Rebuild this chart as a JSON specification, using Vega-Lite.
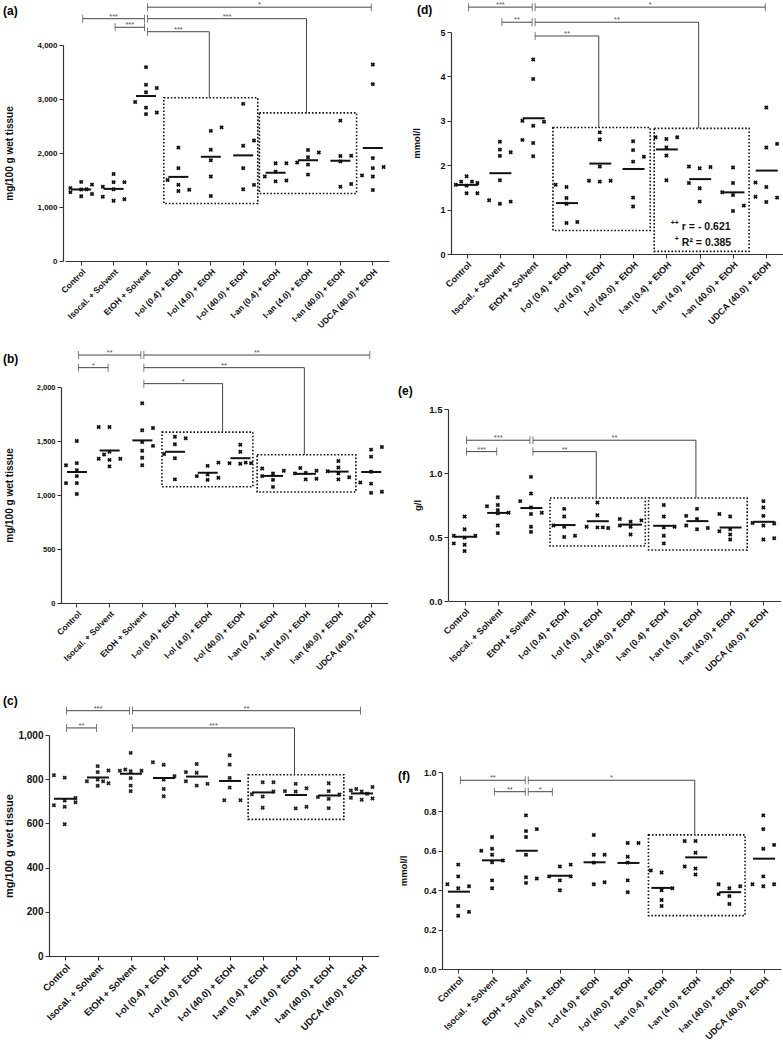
{
"$schema": "https://vega.github.io/schema/vega-lite/v6.json",
"background": "white",
"autosize": {"type": "none"},
"padding": {"left": 63, "top": 45, "right": 720, "bottom": 1003},
"config": {
  "font": "Liberation Sans",
  "view": {"stroke": null},
  "axis": {"grid": false, "domainColor": "#333", "tickColor": "#333", "labelColor": "#111", "titleColor": "#111", "labelFontWeight": "bold", "titleFontWeight": "bold", "tickSize": 4, "domainWidth": 1.2},
  "title": {"anchor": "start", "frame": "group", "fontSize": 12, "fontWeight": "bold", "baseline": "bottom", "color": "#000"}
},
"datasets": {
"a_pts": [
{"g":"Control","v":1465,"s":"C"},{"g":"Control","v":1415,"s":"R"},{"g":"Control","v":1350,"s":"L"},{"g":"Control","v":1325,"s":"C"},{"g":"Control","v":1275,"s":"L"},{"g":"Control","v":1240,"s":"R"},{"g":"Control","v":1200,"s":"C"},{"g":"Control","v":1330,"s":"r"},
{"g":"Isocal. + Solvent","v":1610,"s":"C"},{"g":"Isocal. + Solvent","v":1460,"s":"C"},{"g":"Isocal. + Solvent","v":1460,"s":"R"},{"g":"Isocal. + Solvent","v":1375,"s":"L"},{"g":"Isocal. + Solvent","v":1330,"s":"C"},{"g":"Isocal. + Solvent","v":1190,"s":"L"},{"g":"Isocal. + Solvent","v":1115,"s":"C"},{"g":"Isocal. + Solvent","v":1145,"s":"R"},
{"g":"EtOH + Solvent","v":3590,"s":"C"},{"g":"EtOH + Solvent","v":3265,"s":"C"},{"g":"EtOH + Solvent","v":3205,"s":"R"},{"g":"EtOH + Solvent","v":3125,"s":"C"},{"g":"EtOH + Solvent","v":2945,"s":"L"},{"g":"EtOH + Solvent","v":2840,"s":"C"},{"g":"EtOH + Solvent","v":2750,"s":"R"},{"g":"EtOH + Solvent","v":2720,"s":"C"},
{"g":"I-ol (0.4) + EtOH","v":2100,"s":"C"},{"g":"I-ol (0.4) + EtOH","v":1720,"s":"C"},{"g":"I-ol (0.4) + EtOH","v":1500,"s":"L"},{"g":"I-ol (0.4) + EtOH","v":1410,"s":"C"},{"g":"I-ol (0.4) + EtOH","v":1295,"s":"C"},{"g":"I-ol (0.4) + EtOH","v":1320,"s":"R"},
{"g":"I-ol (4.0) + EtOH","v":2410,"s":"C"},{"g":"I-ol (4.0) + EtOH","v":2475,"s":"R"},{"g":"I-ol (4.0) + EtOH","v":2060,"s":"C"},{"g":"I-ol (4.0) + EtOH","v":1865,"s":"C"},{"g":"I-ol (4.0) + EtOH","v":1565,"s":"C"},{"g":"I-ol (4.0) + EtOH","v":1205,"s":"C"},
{"g":"I-ol (40.0) + EtOH","v":2910,"s":"C"},{"g":"I-ol (40.0) + EtOH","v":2230,"s":"R"},{"g":"I-ol (40.0) + EtOH","v":2135,"s":"C"},{"g":"I-ol (40.0) + EtOH","v":1720,"s":"C"},{"g":"I-ol (40.0) + EtOH","v":1330,"s":"C"},{"g":"I-ol (40.0) + EtOH","v":1410,"s":"R"},
{"g":"I-an (0.4) + EtOH","v":1810,"s":"C"},{"g":"I-an (0.4) + EtOH","v":1810,"s":"R"},{"g":"I-an (0.4) + EtOH","v":1655,"s":"C"},{"g":"I-an (0.4) + EtOH","v":1565,"s":"L"},{"g":"I-an (0.4) + EtOH","v":1475,"s":"C"},{"g":"I-an (0.4) + EtOH","v":1490,"s":"R"},
{"g":"I-an (4.0) + EtOH","v":2055,"s":"C"},{"g":"I-an (4.0) + EtOH","v":2010,"s":"R"},{"g":"I-an (4.0) + EtOH","v":1920,"s":"C"},{"g":"I-an (4.0) + EtOH","v":1825,"s":"L"},{"g":"I-an (4.0) + EtOH","v":1785,"s":"C"},{"g":"I-an (4.0) + EtOH","v":1600,"s":"C"},
{"g":"I-an (40.0) + EtOH","v":2600,"s":"C"},{"g":"I-an (40.0) + EtOH","v":1945,"s":"C"},{"g":"I-an (40.0) + EtOH","v":1950,"s":"R"},{"g":"I-an (40.0) + EtOH","v":1845,"s":"C"},{"g":"I-an (40.0) + EtOH","v":1375,"s":"C"},{"g":"I-an (40.0) + EtOH","v":1425,"s":"R"},
{"g":"UDCA (40.0) + EtOH","v":3640,"s":"C"},{"g":"UDCA (40.0) + EtOH","v":3275,"s":"C"},{"g":"UDCA (40.0) + EtOH","v":1905,"s":"C"},{"g":"UDCA (40.0) + EtOH","v":1720,"s":"C"},{"g":"UDCA (40.0) + EtOH","v":1740,"s":"R"},{"g":"UDCA (40.0) + EtOH","v":1585,"s":"L"},{"g":"UDCA (40.0) + EtOH","v":1565,"s":"C"},{"g":"UDCA (40.0) + EtOH","v":1315,"s":"C"}
],
"a_br": [{"a":1,"b":3,"v":4487,"s":"***"},{"a":2,"b":3,"v":4328,"s":"***"},{"a":3,"b":10,"v":4700,"s":"*"},{"a":3,"b":8,"v":4487,"s":"***","d":2743},{"a":3,"b":5,"v":4246,"s":"***","d":3022}],
"a_box": [{"x1":3.55,"x2":6.45,"v":3022,"v2":1065},{"x1":6.5,"x2":9.5,"v":2743,"v2":1251}],
"b_pts": [
{"g":"Control","v":1500,"s":"C"},{"g":"Control","v":1275,"s":"L"},{"g":"Control","v":1295,"s":"C"},{"g":"Control","v":1230,"s":"C"},{"g":"Control","v":1175,"s":"C"},{"g":"Control","v":1110,"s":"L"},{"g":"Control","v":1110,"s":"C"},{"g":"Control","v":1010,"s":"C"},
{"g":"Isocal. + Solvent","v":1630,"s":"L"},{"g":"Isocal. + Solvent","v":1630,"s":"C"},{"g":"Isocal. + Solvent","v":1400,"s":"C"},{"g":"Isocal. + Solvent","v":1375,"s":"l"},{"g":"Isocal. + Solvent","v":1335,"s":"L"},{"g":"Isocal. + Solvent","v":1325,"s":"C"},{"g":"Isocal. + Solvent","v":1335,"s":"R"},{"g":"Isocal. + Solvent","v":1265,"s":"C"},
{"g":"EtOH + Solvent","v":1850,"s":"C"},{"g":"EtOH + Solvent","v":1600,"s":"C"},{"g":"EtOH + Solvent","v":1620,"s":"R"},{"g":"EtOH + Solvent","v":1490,"s":"C"},{"g":"EtOH + Solvent","v":1455,"s":"R"},{"g":"EtOH + Solvent","v":1410,"s":"C"},{"g":"EtOH + Solvent","v":1345,"s":"C"},{"g":"EtOH + Solvent","v":1275,"s":"C"},
{"g":"I-ol (0.4) + EtOH","v":1540,"s":"C"},{"g":"I-ol (0.4) + EtOH","v":1525,"s":"R"},{"g":"I-ol (0.4) + EtOH","v":1470,"s":"C"},{"g":"I-ol (0.4) + EtOH","v":1380,"s":"L"},{"g":"I-ol (0.4) + EtOH","v":1340,"s":"C"},{"g":"I-ol (0.4) + EtOH","v":1145,"s":"C"},
{"g":"I-ol (4.0) + EtOH","v":1270,"s":"C"},{"g":"I-ol (4.0) + EtOH","v":1300,"s":"R"},{"g":"I-ol (4.0) + EtOH","v":1175,"s":"L"},{"g":"I-ol (4.0) + EtOH","v":1190,"s":"C"},{"g":"I-ol (4.0) + EtOH","v":1140,"s":"C"},{"g":"I-ol (4.0) + EtOH","v":1160,"s":"R"},
{"g":"I-ol (40.0) + EtOH","v":1465,"s":"C"},{"g":"I-ol (40.0) + EtOH","v":1400,"s":"C"},{"g":"I-ol (40.0) + EtOH","v":1295,"s":"L"},{"g":"I-ol (40.0) + EtOH","v":1290,"s":"C"},{"g":"I-ol (40.0) + EtOH","v":1295,"s":"R"},{"g":"I-ol (40.0) + EtOH","v":1300,"s":"r"},
{"g":"I-an (0.4) + EtOH","v":1245,"s":"L"},{"g":"I-an (0.4) + EtOH","v":1200,"s":"C"},{"g":"I-an (0.4) + EtOH","v":1225,"s":"R"},{"g":"I-an (0.4) + EtOH","v":1175,"s":"L"},{"g":"I-an (0.4) + EtOH","v":1140,"s":"C"},{"g":"I-an (0.4) + EtOH","v":1075,"s":"C"},
{"g":"I-an (4.0) + EtOH","v":1250,"s":"l"},{"g":"I-an (4.0) + EtOH","v":1225,"s":"R"},{"g":"I-an (4.0) + EtOH","v":1205,"s":"C"},{"g":"I-an (4.0) + EtOH","v":1200,"s":"L"},{"g":"I-an (4.0) + EtOH","v":1145,"s":"C"},{"g":"I-an (4.0) + EtOH","v":1150,"s":"R"},
{"g":"I-an (40.0) + EtOH","v":1315,"s":"C"},{"g":"I-an (40.0) + EtOH","v":1255,"s":"C"},{"g":"I-an (40.0) + EtOH","v":1220,"s":"L"},{"g":"I-an (40.0) + EtOH","v":1200,"s":"C"},{"g":"I-an (40.0) + EtOH","v":1145,"s":"C"},{"g":"I-an (40.0) + EtOH","v":1165,"s":"R"},
{"g":"UDCA (40.0) + EtOH","v":1420,"s":"C"},{"g":"UDCA (40.0) + EtOH","v":1445,"s":"R"},{"g":"UDCA (40.0) + EtOH","v":1355,"s":"C"},{"g":"UDCA (40.0) + EtOH","v":1215,"s":"C"},{"g":"UDCA (40.0) + EtOH","v":1115,"s":"L"},{"g":"UDCA (40.0) + EtOH","v":1105,"s":"C"},{"g":"UDCA (40.0) + EtOH","v":1020,"s":"C"},{"g":"UDCA (40.0) + EtOH","v":1030,"s":"R"}
],
"b_br": [{"a":1,"b":3,"v":2296,"s":"**"},{"a":1,"b":2,"v":2179,"s":"*"},{"a":3,"b":10,"v":2296,"s":"**"},{"a":3,"b":8,"v":2179,"s":"**","d":1372},{"a":3,"b":5.5,"v":2031,"s":"*","d":1582}],
"b_box": [{"x1":3.6,"x2":6.38,"v":1582,"v2":1077},{"x1":6.51,"x2":9.53,"v":1372,"v2":1028}],
"c_pts": [
{"g":"Control","v":818,"s":"L"},{"g":"Control","v":807,"s":"C"},{"g":"Control","v":715,"s":"R"},{"g":"Control","v":703,"s":"C"},{"g":"Control","v":696,"s":"R"},{"g":"Control","v":682,"s":"L"},{"g":"Control","v":675,"s":"C"},{"g":"Control","v":596,"s":"C"},
{"g":"Isocal. + Solvent","v":859,"s":"C"},{"g":"Isocal. + Solvent","v":832,"s":"C"},{"g":"Isocal. + Solvent","v":839,"s":"R"},{"g":"Isocal. + Solvent","v":791,"s":"L"},{"g":"Isocal. + Solvent","v":798,"s":"C"},{"g":"Isocal. + Solvent","v":791,"s":"r"},{"g":"Isocal. + Solvent","v":782,"s":"R"},{"g":"Isocal. + Solvent","v":770,"s":"C"},
{"g":"EtOH + Solvent","v":919,"s":"C"},{"g":"EtOH + Solvent","v":838,"s":"L"},{"g":"EtOH + Solvent","v":844,"s":"l"},{"g":"EtOH + Solvent","v":836,"s":"C"},{"g":"EtOH + Solvent","v":838,"s":"R"},{"g":"EtOH + Solvent","v":805,"s":"C"},{"g":"EtOH + Solvent","v":771,"s":"C"},{"g":"EtOH + Solvent","v":746,"s":"C"},
{"g":"I-ol (0.4) + EtOH","v":877,"s":"L"},{"g":"I-ol (0.4) + EtOH","v":865,"s":"C"},{"g":"I-ol (0.4) + EtOH","v":814,"s":"R"},{"g":"I-ol (0.4) + EtOH","v":798,"s":"C"},{"g":"I-ol (0.4) + EtOH","v":756,"s":"C"},{"g":"I-ol (0.4) + EtOH","v":723,"s":"C"},
{"g":"I-ol (4.0) + EtOH","v":869,"s":"C"},{"g":"I-ol (4.0) + EtOH","v":832,"s":"L"},{"g":"I-ol (4.0) + EtOH","v":829,"s":"C"},{"g":"I-ol (4.0) + EtOH","v":791,"s":"L"},{"g":"I-ol (4.0) + EtOH","v":771,"s":"C"},{"g":"I-ol (4.0) + EtOH","v":779,"s":"R"},
{"g":"I-ol (40.0) + EtOH","v":908,"s":"C"},{"g":"I-ol (40.0) + EtOH","v":866,"s":"C"},{"g":"I-ol (40.0) + EtOH","v":806,"s":"C"},{"g":"I-ol (40.0) + EtOH","v":762,"s":"C"},{"g":"I-ol (40.0) + EtOH","v":705,"s":"l"},{"g":"I-ol (40.0) + EtOH","v":705,"s":"R"},
{"g":"I-an (0.4) + EtOH","v":786,"s":"C"},{"g":"I-an (0.4) + EtOH","v":786,"s":"R"},{"g":"I-an (0.4) + EtOH","v":732,"s":"L"},{"g":"I-an (0.4) + EtOH","v":722,"s":"C"},{"g":"I-an (0.4) + EtOH","v":744,"s":"R"},{"g":"I-an (0.4) + EtOH","v":671,"s":"C"},
{"g":"I-an (4.0) + EtOH","v":779,"s":"C"},{"g":"I-an (4.0) + EtOH","v":746,"s":"L"},{"g":"I-an (4.0) + EtOH","v":744,"s":"C"},{"g":"I-an (4.0) + EtOH","v":759,"s":"R"},{"g":"I-an (4.0) + EtOH","v":668,"s":"C"},{"g":"I-an (4.0) + EtOH","v":675,"s":"R"},
{"g":"I-an (40.0) + EtOH","v":782,"s":"C"},{"g":"I-an (40.0) + EtOH","v":746,"s":"C"},{"g":"I-an (40.0) + EtOH","v":719,"s":"L"},{"g":"I-an (40.0) + EtOH","v":711,"s":"C"},{"g":"I-an (40.0) + EtOH","v":731,"s":"R"},{"g":"I-an (40.0) + EtOH","v":669,"s":"C"},
{"g":"UDCA (40.0) + EtOH","v":765,"s":"R"},{"g":"UDCA (40.0) + EtOH","v":749,"s":"L"},{"g":"UDCA (40.0) + EtOH","v":756,"s":"l"},{"g":"UDCA (40.0) + EtOH","v":744,"s":"C"},{"g":"UDCA (40.0) + EtOH","v":716,"s":"L"},{"g":"UDCA (40.0) + EtOH","v":707,"s":"C"},{"g":"UDCA (40.0) + EtOH","v":713,"s":"R"},{"g":"UDCA (40.0) + EtOH","v":734,"s":"r"}
],
"c_br": [{"a":1,"b":3,"v":1110,"s":"***"},{"a":1,"b":2,"v":1032,"s":"**"},{"a":3,"b":10,"v":1110,"s":"**"},{"a":3,"b":8,"v":1032,"s":"***","d":820}],
"c_box": [{"x1":6.55,"x2":9.45,"v":820,"v2":618}],
"d_pts": [
{"g":"Control","v":1.75,"s":"C"},{"g":"Control","v":1.63,"s":"l"},{"g":"Control","v":1.63,"s":"r"},{"g":"Control","v":1.6,"s":"R"},{"g":"Control","v":1.56,"s":"L"},{"g":"Control","v":1.54,"s":"C"},{"g":"Control","v":1.37,"s":"C"},{"g":"Control","v":1.37,"s":"R"},
{"g":"Isocal. + Solvent","v":2.53,"s":"C"},{"g":"Isocal. + Solvent","v":2.35,"s":"C"},{"g":"Isocal. + Solvent","v":2.29,"s":"R"},{"g":"Isocal. + Solvent","v":2.21,"s":"C"},{"g":"Isocal. + Solvent","v":1.66,"s":"C"},{"g":"Isocal. + Solvent","v":1.21,"s":"L"},{"g":"Isocal. + Solvent","v":1.13,"s":"C"},{"g":"Isocal. + Solvent","v":1.18,"s":"R"},
{"g":"EtOH + Solvent","v":4.38,"s":"C"},{"g":"EtOH + Solvent","v":3.94,"s":"C"},{"g":"EtOH + Solvent","v":3.0,"s":"L"},{"g":"EtOH + Solvent","v":2.89,"s":"C"},{"g":"EtOH + Solvent","v":2.98,"s":"R"},{"g":"EtOH + Solvent","v":2.57,"s":"L"},{"g":"EtOH + Solvent","v":2.5,"s":"C"},{"g":"EtOH + Solvent","v":2.2,"s":"C"},
{"g":"I-ol (0.4) + EtOH","v":1.56,"s":"L"},{"g":"I-ol (0.4) + EtOH","v":1.51,"s":"C"},{"g":"I-ol (0.4) + EtOH","v":1.26,"s":"C"},{"g":"I-ol (0.4) + EtOH","v":1.13,"s":"C"},{"g":"I-ol (0.4) + EtOH","v":0.7,"s":"C"},{"g":"I-ol (0.4) + EtOH","v":0.72,"s":"R"},
{"g":"I-ol (4.0) + EtOH","v":2.74,"s":"C"},{"g":"I-ol (4.0) + EtOH","v":2.58,"s":"C"},{"g":"I-ol (4.0) + EtOH","v":1.97,"s":"C"},{"g":"I-ol (4.0) + EtOH","v":1.65,"s":"L"},{"g":"I-ol (4.0) + EtOH","v":1.63,"s":"C"},{"g":"I-ol (4.0) + EtOH","v":1.65,"s":"R"},
{"g":"I-ol (40.0) + EtOH","v":2.54,"s":"C"},{"g":"I-ol (40.0) + EtOH","v":2.34,"s":"C"},{"g":"I-ol (40.0) + EtOH","v":2.19,"s":"R"},{"g":"I-ol (40.0) + EtOH","v":2.08,"s":"C"},{"g":"I-ol (40.0) + EtOH","v":1.27,"s":"C"},{"g":"I-ol (40.0) + EtOH","v":1.07,"s":"C"},
{"g":"I-an (0.4) + EtOH","v":2.63,"s":"L"},{"g":"I-an (0.4) + EtOH","v":2.59,"s":"C"},{"g":"I-an (0.4) + EtOH","v":2.63,"s":"R"},{"g":"I-an (0.4) + EtOH","v":2.4,"s":"C"},{"g":"I-an (0.4) + EtOH","v":2.22,"s":"C"},{"g":"I-an (0.4) + EtOH","v":1.66,"s":"C"},
{"g":"I-an (4.0) + EtOH","v":1.97,"s":"L"},{"g":"I-an (4.0) + EtOH","v":1.93,"s":"C"},{"g":"I-an (4.0) + EtOH","v":1.96,"s":"R"},{"g":"I-an (4.0) + EtOH","v":1.6,"s":"L"},{"g":"I-an (4.0) + EtOH","v":1.48,"s":"C"},{"g":"I-an (4.0) + EtOH","v":1.18,"s":"C"},
{"g":"I-an (40.0) + EtOH","v":1.95,"s":"C"},{"g":"I-an (40.0) + EtOH","v":1.6,"s":"C"},{"g":"I-an (40.0) + EtOH","v":1.39,"s":"L"},{"g":"I-an (40.0) + EtOH","v":1.33,"s":"C"},{"g":"I-an (40.0) + EtOH","v":1.09,"s":"R"},{"g":"I-an (40.0) + EtOH","v":0.97,"s":"C"},
{"g":"UDCA (40.0) + EtOH","v":3.3,"s":"C"},{"g":"UDCA (40.0) + EtOH","v":2.4,"s":"C"},{"g":"UDCA (40.0) + EtOH","v":2.48,"s":"R"},{"g":"UDCA (40.0) + EtOH","v":1.61,"s":"L"},{"g":"UDCA (40.0) + EtOH","v":1.51,"s":"C"},{"g":"UDCA (40.0) + EtOH","v":1.29,"s":"L"},{"g":"UDCA (40.0) + EtOH","v":1.17,"s":"C"},{"g":"UDCA (40.0) + EtOH","v":1.27,"s":"R"}
],
"d_br": [{"a":1,"b":3,"v":5.56,"s":"***"},{"a":2,"b":3,"v":5.22,"s":"**"},{"a":3,"b":10,"v":5.56,"s":"*"},{"a":3,"b":8,"v":5.22,"s":"**","d":2.84},{"a":3,"b":5,"v":4.91,"s":"**","d":2.84}],
"d_box": [{"x1":3.58,"x2":6.5,"v":2.85,"v2":0.53},{"x1":6.62,"x2":9.47,"v":2.83,"v2":0.06}],
"d_txt": [{"x":7.45,"v":0.54,"t":"r = - 0.621","u":"++"},{"x":7.45,"v":0.19,"t":"R² = 0.385","u":"+"}],
"e_pts": [
{"g":"Control","v":0.66,"s":"C"},{"g":"Control","v":0.56,"s":"C"},{"g":"Control","v":0.51,"s":"L"},{"g":"Control","v":0.495,"s":"C"},{"g":"Control","v":0.51,"s":"R"},{"g":"Control","v":0.45,"s":"L"},{"g":"Control","v":0.44,"s":"C"},{"g":"Control","v":0.39,"s":"C"},
{"g":"Isocal. + Solvent","v":0.81,"s":"C"},{"g":"Isocal. + Solvent","v":0.74,"s":"L"},{"g":"Isocal. + Solvent","v":0.75,"s":"C"},{"g":"Isocal. + Solvent","v":0.71,"s":"C"},{"g":"Isocal. + Solvent","v":0.685,"s":"C"},{"g":"Isocal. + Solvent","v":0.69,"s":"R"},{"g":"Isocal. + Solvent","v":0.59,"s":"C"},{"g":"Isocal. + Solvent","v":0.53,"s":"C"},
{"g":"EtOH + Solvent","v":0.97,"s":"C"},{"g":"EtOH + Solvent","v":0.84,"s":"C"},{"g":"EtOH + Solvent","v":0.78,"s":"L"},{"g":"EtOH + Solvent","v":0.73,"s":"C"},{"g":"EtOH + Solvent","v":0.68,"s":"C"},{"g":"EtOH + Solvent","v":0.69,"s":"R"},{"g":"EtOH + Solvent","v":0.58,"s":"C"},{"g":"EtOH + Solvent","v":0.54,"s":"C"},
{"g":"I-ol (0.4) + EtOH","v":0.72,"s":"C"},{"g":"I-ol (0.4) + EtOH","v":0.66,"s":"C"},{"g":"I-ol (0.4) + EtOH","v":0.59,"s":"L"},{"g":"I-ol (0.4) + EtOH","v":0.58,"s":"C"},{"g":"I-ol (0.4) + EtOH","v":0.5,"s":"C"},{"g":"I-ol (0.4) + EtOH","v":0.51,"s":"R"},
{"g":"I-ol (4.0) + EtOH","v":0.77,"s":"C"},{"g":"I-ol (4.0) + EtOH","v":0.67,"s":"C"},{"g":"I-ol (4.0) + EtOH","v":0.58,"s":"L"},{"g":"I-ol (4.0) + EtOH","v":0.575,"s":"C"},{"g":"I-ol (4.0) + EtOH","v":0.57,"s":"R"},{"g":"I-ol (4.0) + EtOH","v":0.575,"s":"r"},
{"g":"I-ol (40.0) + EtOH","v":0.64,"s":"L"},{"g":"I-ol (40.0) + EtOH","v":0.62,"s":"C"},{"g":"I-ol (40.0) + EtOH","v":0.63,"s":"R"},{"g":"I-ol (40.0) + EtOH","v":0.59,"s":"L"},{"g":"I-ol (40.0) + EtOH","v":0.58,"s":"C"},{"g":"I-ol (40.0) + EtOH","v":0.52,"s":"C"},
{"g":"I-an (0.4) + EtOH","v":0.75,"s":"C"},{"g":"I-an (0.4) + EtOH","v":0.66,"s":"C"},{"g":"I-an (0.4) + EtOH","v":0.575,"s":"C"},{"g":"I-an (0.4) + EtOH","v":0.58,"s":"R"},{"g":"I-an (0.4) + EtOH","v":0.51,"s":"C"},{"g":"I-an (0.4) + EtOH","v":0.45,"s":"C"},
{"g":"I-an (4.0) + EtOH","v":0.72,"s":"C"},{"g":"I-an (4.0) + EtOH","v":0.665,"s":"L"},{"g":"I-an (4.0) + EtOH","v":0.64,"s":"C"},{"g":"I-an (4.0) + EtOH","v":0.59,"s":"L"},{"g":"I-an (4.0) + EtOH","v":0.56,"s":"C"},{"g":"I-an (4.0) + EtOH","v":0.57,"s":"R"},
{"g":"I-an (40.0) + EtOH","v":0.68,"s":"L"},{"g":"I-an (40.0) + EtOH","v":0.66,"s":"C"},{"g":"I-an (40.0) + EtOH","v":0.545,"s":"L"},{"g":"I-an (40.0) + EtOH","v":0.56,"s":"C"},{"g":"I-an (40.0) + EtOH","v":0.52,"s":"C"},{"g":"I-an (40.0) + EtOH","v":0.48,"s":"C"},
{"g":"UDCA (40.0) + EtOH","v":0.78,"s":"C"},{"g":"UDCA (40.0) + EtOH","v":0.73,"s":"C"},{"g":"UDCA (40.0) + EtOH","v":0.665,"s":"C"},{"g":"UDCA (40.0) + EtOH","v":0.61,"s":"L"},{"g":"UDCA (40.0) + EtOH","v":0.59,"s":"C"},{"g":"UDCA (40.0) + EtOH","v":0.605,"s":"R"},{"g":"UDCA (40.0) + EtOH","v":0.48,"s":"C"},{"g":"UDCA (40.0) + EtOH","v":0.49,"s":"R"}
],
"e_br": [{"a":1,"b":3,"v":1.256,"s":"***"},{"a":1,"b":2,"v":1.167,"s":"***"},{"a":3,"b":8,"v":1.256,"s":"**","d":0.805},{"a":3,"b":5,"v":1.167,"s":"**","d":0.805}],
"e_box": [{"x1":3.56,"x2":6.43,"v":0.805,"v2":0.43},{"x1":6.53,"x2":9.5,"v":0.805,"v2":0.398}],
"f_pts": [
{"g":"Control","v":0.53,"s":"C"},{"g":"Control","v":0.47,"s":"C"},{"g":"Control","v":0.43,"s":"L"},{"g":"Control","v":0.41,"s":"C"},{"g":"Control","v":0.42,"s":"R"},{"g":"Control","v":0.32,"s":"C"},{"g":"Control","v":0.29,"s":"R"},{"g":"Control","v":0.27,"s":"C"},
{"g":"Isocal. + Solvent","v":0.67,"s":"C"},{"g":"Isocal. + Solvent","v":0.6,"s":"L"},{"g":"Isocal. + Solvent","v":0.61,"s":"C"},{"g":"Isocal. + Solvent","v":0.58,"s":"C"},{"g":"Isocal. + Solvent","v":0.542,"s":"C"},{"g":"Isocal. + Solvent","v":0.551,"s":"R"},{"g":"Isocal. + Solvent","v":0.45,"s":"C"},{"g":"Isocal. + Solvent","v":0.41,"s":"C"},
{"g":"EtOH + Solvent","v":0.78,"s":"C"},{"g":"EtOH + Solvent","v":0.7,"s":"C"},{"g":"EtOH + Solvent","v":0.71,"s":"R"},{"g":"EtOH + Solvent","v":0.67,"s":"C"},{"g":"EtOH + Solvent","v":0.58,"s":"C"},{"g":"EtOH + Solvent","v":0.466,"s":"C"},{"g":"EtOH + Solvent","v":0.459,"s":"R"},{"g":"EtOH + Solvent","v":0.437,"s":"C"},
{"g":"I-ol (0.4) + EtOH","v":0.52,"s":"C"},{"g":"I-ol (0.4) + EtOH","v":0.53,"s":"R"},{"g":"I-ol (0.4) + EtOH","v":0.47,"s":"L"},{"g":"I-ol (0.4) + EtOH","v":0.45,"s":"C"},{"g":"I-ol (0.4) + EtOH","v":0.47,"s":"R"},{"g":"I-ol (0.4) + EtOH","v":0.4,"s":"C"},
{"g":"I-ol (4.0) + EtOH","v":0.68,"s":"C"},{"g":"I-ol (4.0) + EtOH","v":0.58,"s":"C"},{"g":"I-ol (4.0) + EtOH","v":0.58,"s":"R"},{"g":"I-ol (4.0) + EtOH","v":0.54,"s":"C"},{"g":"I-ol (4.0) + EtOH","v":0.43,"s":"C"},{"g":"I-ol (4.0) + EtOH","v":0.44,"s":"R"},
{"g":"I-ol (40.0) + EtOH","v":0.64,"s":"C"},{"g":"I-ol (40.0) + EtOH","v":0.64,"s":"R"},{"g":"I-ol (40.0) + EtOH","v":0.57,"s":"C"},{"g":"I-ol (40.0) + EtOH","v":0.54,"s":"C"},{"g":"I-ol (40.0) + EtOH","v":0.45,"s":"C"},{"g":"I-ol (40.0) + EtOH","v":0.39,"s":"C"},
{"g":"I-an (0.4) + EtOH","v":0.5,"s":"L"},{"g":"I-an (0.4) + EtOH","v":0.49,"s":"C"},{"g":"I-an (0.4) + EtOH","v":0.4,"s":"C"},{"g":"I-an (0.4) + EtOH","v":0.41,"s":"R"},{"g":"I-an (0.4) + EtOH","v":0.35,"s":"C"},{"g":"I-an (0.4) + EtOH","v":0.32,"s":"C"},
{"g":"I-an (4.0) + EtOH","v":0.65,"s":"L"},{"g":"I-an (4.0) + EtOH","v":0.65,"s":"C"},{"g":"I-an (4.0) + EtOH","v":0.59,"s":"C"},{"g":"I-an (4.0) + EtOH","v":0.52,"s":"L"},{"g":"I-an (4.0) + EtOH","v":0.51,"s":"C"},{"g":"I-an (4.0) + EtOH","v":0.48,"s":"C"},
{"g":"I-an (40.0) + EtOH","v":0.43,"s":"L"},{"g":"I-an (40.0) + EtOH","v":0.41,"s":"C"},{"g":"I-an (40.0) + EtOH","v":0.42,"s":"R"},{"g":"I-an (40.0) + EtOH","v":0.38,"s":"L"},{"g":"I-an (40.0) + EtOH","v":0.37,"s":"C"},{"g":"I-an (40.0) + EtOH","v":0.33,"s":"C"},
{"g":"UDCA (40.0) + EtOH","v":0.78,"s":"C"},{"g":"UDCA (40.0) + EtOH","v":0.71,"s":"C"},{"g":"UDCA (40.0) + EtOH","v":0.61,"s":"C"},{"g":"UDCA (40.0) + EtOH","v":0.63,"s":"R"},{"g":"UDCA (40.0) + EtOH","v":0.47,"s":"C"},{"g":"UDCA (40.0) + EtOH","v":0.43,"s":"L"},{"g":"UDCA (40.0) + EtOH","v":0.42,"s":"C"},{"g":"UDCA (40.0) + EtOH","v":0.43,"s":"R"}
],
"f_br": [{"a":1,"b":3,"v":0.958,"s":"**"},{"a":2,"b":3,"v":0.9,"s":"**"},{"a":3,"b":3.8,"v":0.9,"s":"*"},{"a":3,"b":8,"v":0.958,"s":"*","d":0.681}],
"f_box": [{"x1":6.59,"x2":9.44,"v":0.681,"v2":0.271}]
},
"spacing": 5,
"hconcat": [
{"spacing": 9, "vconcat": [
{"title": {"text": "(a)", "offset": -17, "dx": -60},
 "width": 326, "height": 216,
 "resolve": {"scale": {"x": "independent"}},
 "encoding": {"y": {"field": "v", "type": "quantitative", "title": "mg/100 g wet tissue", "scale": {"domain": [0, 4000], "nice": false},
   "axis": {"values": [0,1000,2000,3000,4000], "format": ",.0f", "titleFontSize": 10, "titlePadding": 22, "labelFontSize": 8, "labelPadding": 2}}},
 "layer": [
  {"data": {"name": "a_box"}, "mark": {"type": "rect", "filled": false, "color": "#111", "strokeWidth": 1.6, "strokeDash": [1.6, 1.9]},
   "encoding": {"x": {"field": "x1", "type": "quantitative", "scale": {"domain": [0.5, 10.5], "range": [2, 326], "nice": false, "zero": false}, "axis": null}, "x2": {"field": "x2"}, "y2": {"field": "v2"}}},
  {"data": {"name": "a_pts"}, "mark": {"type": "point", "shape": "cross", "angle": 45, "filled": true, "size": 20, "color": "#111", "opacity": 1},
   "encoding": {
    "x": {"field": "g", "type": "nominal", "sort": null, "scale": {"domain": ["Control","Isocal. + Solvent","EtOH + Solvent","I-ol (0.4) + EtOH","I-ol (4.0) + EtOH","I-ol (40.0) + EtOH","I-an (0.4) + EtOH","I-an (4.0) + EtOH","I-an (40.0) + EtOH","UDCA (40.0) + EtOH"], "range": [2, 326], "paddingInner": 0, "paddingOuter": 0},
      "axis": {"title": null, "labelAngle": -45, "labelAlign": "right", "labelFontSize": 8.5, "labelPadding": 2}},
    "xOffset": {"field": "s", "type": "nominal", "scale": {"domain": ["L","l","C","r","R"], "paddingInner": 0, "paddingOuter": 3.2}}}},
  {"data": {"name": "a_pts"}, "mark": {"type": "tick", "orient": "horizontal", "size": 20, "thickness": 2, "color": "#111"},
   "encoding": {"x": {"field": "g", "type": "nominal", "sort": null, "scale": {"domain": ["Control","Isocal. + Solvent","EtOH + Solvent","I-ol (0.4) + EtOH","I-ol (4.0) + EtOH","I-ol (40.0) + EtOH","I-an (0.4) + EtOH","I-an (4.0) + EtOH","I-an (40.0) + EtOH","UDCA (40.0) + EtOH"], "range": [2, 326], "paddingInner": 0, "paddingOuter": 0}, "axis": null},
    "y": {"aggregate": "mean", "field": "v", "type": "quantitative", "title": "mg/100 g wet tissue", "scale": {"domain": [0, 4000], "nice": false},
      "axis": {"values": [0,1000,2000,3000,4000], "format": ",.0f", "titleFontSize": 10, "titlePadding": 22, "labelFontSize": 8, "labelPadding": 2}}}},
  {"data": {"name": "a_br"}, "mark": {"type": "rule", "color": "#444", "strokeWidth": 1, "xOffset": 1.5, "x2Offset": -1.5},
   "encoding": {"x": {"field": "a", "type": "quantitative", "scale": {"domain": [0.5, 10.5], "range": [2, 326], "nice": false, "zero": false}, "axis": null}, "x2": {"field": "b"}}},
  {"data": {"name": "a_br"}, "mark": {"type": "tick", "orient": "vertical", "size": 8, "thickness": 1, "color": "#444", "xOffset": 1.5},
   "encoding": {"x": {"field": "a", "type": "quantitative", "scale": {"domain": [0.5, 10.5], "range": [2, 326], "nice": false, "zero": false}, "axis": null}}},
  {"data": {"name": "a_br"}, "transform": [{"filter": "!isValid(datum.d)"}], "mark": {"type": "tick", "orient": "vertical", "size": 8, "thickness": 1, "color": "#444", "xOffset": -1.5},
   "encoding": {"x": {"field": "b", "type": "quantitative", "scale": {"domain": [0.5, 10.5], "range": [2, 326], "nice": false, "zero": false}, "axis": null}}},
  {"data": {"name": "a_br"}, "transform": [{"filter": "isValid(datum.d)"}], "mark": {"type": "rule", "color": "#444", "strokeWidth": 1, "xOffset": -1.5},
   "encoding": {"x": {"field": "b", "type": "quantitative", "scale": {"domain": [0.5, 10.5], "range": [2, 326], "nice": false, "zero": false}, "axis": null}, "y2": {"field": "d"}}},
  {"data": {"name": "a_br"}, "transform": [{"calculate": "(datum.a+datum.b)/2", "as": "m"}], "mark": {"type": "text", "fontSize": 7.5, "color": "#555", "baseline": "alphabetic", "dy": 0},
   "encoding": {"x": {"field": "m", "type": "quantitative", "scale": {"domain": [0.5, 10.5], "range": [2, 326], "nice": false, "zero": false}, "axis": null}, "text": {"field": "s"}}}
 ]},
{"data": {"values": []}, "mark": "point", "width": 1, "height": 1},
{"title": {"text": "(b)", "offset": -17, "dx": -60},
 "width": 325, "height": 216,
 "resolve": {"scale": {"x": "independent"}},
 "encoding": {"y": {"field": "v", "type": "quantitative", "title": "mg/100 g wet tissue", "scale": {"domain": [0, 2000], "nice": false},
   "axis": {"values": [0,500,1000,1500,2000], "format": ",.0f", "titleFontSize": 10, "titlePadding": 22, "labelFontSize": 7.5, "labelPadding": 2, "offset": 2}}},
 "layer": [
  {"data": {"name": "b_box"}, "mark": {"type": "rect", "filled": false, "color": "#111", "strokeWidth": 1.6, "strokeDash": [1.6, 1.9]},
   "encoding": {"x": {"field": "x1", "type": "quantitative", "scale": {"domain": [0.5, 10.5], "range": [-2.4, 324.6], "nice": false, "zero": false}, "axis": null}, "x2": {"field": "x2"}, "y2": {"field": "v2"}}},
  {"data": {"name": "b_pts"}, "mark": {"type": "point", "shape": "cross", "angle": 45, "filled": true, "size": 20, "color": "#111", "opacity": 1},
   "encoding": {
    "x": {"field": "g", "type": "nominal", "sort": null, "scale": {"domain": ["Control","Isocal. + Solvent","EtOH + Solvent","I-ol (0.4) + EtOH","I-ol (4.0) + EtOH","I-ol (40.0) + EtOH","I-an (0.4) + EtOH","I-an (4.0) + EtOH","I-an (40.0) + EtOH","UDCA (40.0) + EtOH"], "range": [-2.4, 324.6], "paddingInner": 0, "paddingOuter": 0},
      "axis": {"title": null, "labelAngle": -45, "labelAlign": "right", "labelFontSize": 8.5, "labelPadding": 2}},
    "xOffset": {"field": "s", "type": "nominal", "scale": {"domain": ["L","l","C","r","R"], "paddingInner": 0, "paddingOuter": 3.2}}}},
  {"data": {"name": "b_pts"}, "mark": {"type": "tick", "orient": "horizontal", "size": 20, "thickness": 2, "color": "#111"},
   "encoding": {"x": {"field": "g", "type": "nominal", "sort": null, "scale": {"domain": ["Control","Isocal. + Solvent","EtOH + Solvent","I-ol (0.4) + EtOH","I-ol (4.0) + EtOH","I-ol (40.0) + EtOH","I-an (0.4) + EtOH","I-an (4.0) + EtOH","I-an (40.0) + EtOH","UDCA (40.0) + EtOH"], "range": [-2.4, 324.6], "paddingInner": 0, "paddingOuter": 0}, "axis": null},
    "y": {"aggregate": "mean", "field": "v", "type": "quantitative", "title": "mg/100 g wet tissue", "scale": {"domain": [0, 2000], "nice": false},
      "axis": {"values": [0,500,1000,1500,2000], "format": ",.0f", "titleFontSize": 10, "titlePadding": 22, "labelFontSize": 7.5, "labelPadding": 2, "offset": 2}}}},
  {"data": {"name": "b_br"}, "mark": {"type": "rule", "color": "#444", "strokeWidth": 1, "xOffset": 1.5, "x2Offset": -1.5},
   "encoding": {"x": {"field": "a", "type": "quantitative", "scale": {"domain": [0.5, 10.5], "range": [-2.4, 324.6], "nice": false, "zero": false}, "axis": null}, "x2": {"field": "b"}}},
  {"data": {"name": "b_br"}, "mark": {"type": "tick", "orient": "vertical", "size": 8, "thickness": 1, "color": "#444", "xOffset": 1.5},
   "encoding": {"x": {"field": "a", "type": "quantitative", "scale": {"domain": [0.5, 10.5], "range": [-2.4, 324.6], "nice": false, "zero": false}, "axis": null}}},
  {"data": {"name": "b_br"}, "transform": [{"filter": "!isValid(datum.d)"}], "mark": {"type": "tick", "orient": "vertical", "size": 8, "thickness": 1, "color": "#444", "xOffset": -1.5},
   "encoding": {"x": {"field": "b", "type": "quantitative", "scale": {"domain": [0.5, 10.5], "range": [-2.4, 324.6], "nice": false, "zero": false}, "axis": null}}},
  {"data": {"name": "b_br"}, "transform": [{"filter": "isValid(datum.d)"}], "mark": {"type": "rule", "color": "#444", "strokeWidth": 1, "xOffset": -1.5},
   "encoding": {"x": {"field": "b", "type": "quantitative", "scale": {"domain": [0.5, 10.5], "range": [-2.4, 324.6], "nice": false, "zero": false}, "axis": null}, "y2": {"field": "d"}}},
  {"data": {"name": "b_br"}, "transform": [{"calculate": "(datum.a+datum.b)/2", "as": "m"}], "mark": {"type": "text", "fontSize": 7.5, "color": "#555", "baseline": "alphabetic", "dy": 0},
   "encoding": {"x": {"field": "m", "type": "quantitative", "scale": {"domain": [0.5, 10.5], "range": [-2.4, 324.6], "nice": false, "zero": false}, "axis": null}, "text": {"field": "s"}}}
 ]},
{"data": {"values": []}, "mark": "point", "width": 1, "height": 4},
{"title": {"text": "(c)", "offset": -3, "dx": -60},
 "width": 316, "height": 221,
 "resolve": {"scale": {"x": "independent"}},
 "encoding": {"y": {"field": "v", "type": "quantitative", "title": "mg/100 g wet tissue", "scale": {"domain": [0, 1000], "nice": false},
   "axis": {"values": [0,200,400,600,800,1000], "format": ",.0f", "titleFontSize": 11, "titlePadding": 3, "labelFontSize": 10, "labelPadding": 2, "offset": 14}}},
 "layer": [
  {"data": {"name": "c_box"}, "mark": {"type": "rect", "filled": false, "color": "#111", "strokeWidth": 1.6, "strokeDash": [1.6, 1.9]},
   "encoding": {"x": {"field": "x1", "type": "quantitative", "scale": {"domain": [0.5, 10.5], "range": [-14.5, 315.5], "nice": false, "zero": false}, "axis": null}, "x2": {"field": "x2"}, "y2": {"field": "v2"}}},
  {"data": {"name": "c_pts"}, "mark": {"type": "point", "shape": "cross", "angle": 45, "filled": true, "size": 20, "color": "#222", "opacity": 1},
   "encoding": {
    "x": {"field": "g", "type": "nominal", "sort": null, "scale": {"domain": ["Control","Isocal. + Solvent","EtOH + Solvent","I-ol (0.4) + EtOH","I-ol (4.0) + EtOH","I-ol (40.0) + EtOH","I-an (0.4) + EtOH","I-an (4.0) + EtOH","I-an (40.0) + EtOH","UDCA (40.0) + EtOH"], "range": [-14.5, 315.5], "paddingInner": 0, "paddingOuter": 0},
      "axis": {"title": null, "labelAngle": -45, "labelAlign": "right", "labelFontSize": 9.5, "labelPadding": 2}},
    "xOffset": {"field": "s", "type": "nominal", "scale": {"domain": ["L","l","C","r","R"], "paddingInner": 0, "paddingOuter": 3.2}}}},
  {"data": {"name": "c_pts"}, "mark": {"type": "tick", "orient": "horizontal", "size": 22, "thickness": 2, "color": "#111"},
   "encoding": {"x": {"field": "g", "type": "nominal", "sort": null, "scale": {"domain": ["Control","Isocal. + Solvent","EtOH + Solvent","I-ol (0.4) + EtOH","I-ol (4.0) + EtOH","I-ol (40.0) + EtOH","I-an (0.4) + EtOH","I-an (4.0) + EtOH","I-an (40.0) + EtOH","UDCA (40.0) + EtOH"], "range": [-14.5, 315.5], "paddingInner": 0, "paddingOuter": 0}, "axis": null},
    "y": {"aggregate": "mean", "field": "v", "type": "quantitative", "title": "mg/100 g wet tissue", "scale": {"domain": [0, 1000], "nice": false},
      "axis": {"values": [0,200,400,600,800,1000], "format": ",.0f", "titleFontSize": 11, "titlePadding": 3, "labelFontSize": 10, "labelPadding": 2, "offset": 14}}}},
  {"data": {"name": "c_br"}, "mark": {"type": "rule", "color": "#444", "strokeWidth": 1, "xOffset": 1.5, "x2Offset": -1.5},
   "encoding": {"x": {"field": "a", "type": "quantitative", "scale": {"domain": [0.5, 10.5], "range": [-14.5, 315.5], "nice": false, "zero": false}, "axis": null}, "x2": {"field": "b"}}},
  {"data": {"name": "c_br"}, "mark": {"type": "tick", "orient": "vertical", "size": 8, "thickness": 1, "color": "#444", "xOffset": 1.5},
   "encoding": {"x": {"field": "a", "type": "quantitative", "scale": {"domain": [0.5, 10.5], "range": [-14.5, 315.5], "nice": false, "zero": false}, "axis": null}}},
  {"data": {"name": "c_br"}, "transform": [{"filter": "!isValid(datum.d)"}], "mark": {"type": "tick", "orient": "vertical", "size": 8, "thickness": 1, "color": "#444", "xOffset": -1.5},
   "encoding": {"x": {"field": "b", "type": "quantitative", "scale": {"domain": [0.5, 10.5], "range": [-14.5, 315.5], "nice": false, "zero": false}, "axis": null}}},
  {"data": {"name": "c_br"}, "transform": [{"filter": "isValid(datum.d)"}], "mark": {"type": "rule", "color": "#444", "strokeWidth": 1, "xOffset": -1.5},
   "encoding": {"x": {"field": "b", "type": "quantitative", "scale": {"domain": [0.5, 10.5], "range": [-14.5, 315.5], "nice": false, "zero": false}, "axis": null}, "y2": {"field": "d"}}},
  {"data": {"name": "c_br"}, "transform": [{"calculate": "(datum.a+datum.b)/2", "as": "m"}], "mark": {"type": "text", "fontSize": 7.5, "color": "#555", "baseline": "alphabetic", "dy": 0},
   "encoding": {"x": {"field": "m", "type": "quantitative", "scale": {"domain": [0.5, 10.5], "range": [-14.5, 315.5], "nice": false, "zero": false}, "axis": null}, "text": {"field": "s"}}}
 ]}
]},
{"spacing": 10, "vconcat": [
{"title": {"text": "(d)", "offset": -16, "dx": -34},
 "width": 333, "height": 209,
 "resolve": {"scale": {"x": "independent"}},
 "encoding": {"y": {"field": "v", "type": "quantitative", "title": "mmol/l", "scale": {"domain": [0, 5], "range": [209, -13], "nice": false},
   "axis": {"values": [0,1,2,3,4,5], "format": "d", "titleFontSize": 9.5, "titleX": -30, "labelFontSize": 9, "labelPadding": 2}}},
 "layer": [
  {"data": {"name": "d_box"}, "mark": {"type": "rect", "filled": false, "color": "#111", "strokeWidth": 1.6, "strokeDash": [1.6, 1.9]},
   "encoding": {"x": {"field": "x1", "type": "quantitative", "scale": {"domain": [0.5, 10.5], "range": [-0.6, 332.4], "nice": false, "zero": false}, "axis": null}, "x2": {"field": "x2"}, "y2": {"field": "v2"}}},
  {"data": {"name": "d_pts"}, "mark": {"type": "point", "shape": "cross", "angle": 45, "filled": true, "size": 20, "color": "#111", "opacity": 1},
   "encoding": {
    "x": {"field": "g", "type": "nominal", "sort": null, "scale": {"domain": ["Control","Isocal. + Solvent","EtOH + Solvent","I-ol (0.4) + EtOH","I-ol (4.0) + EtOH","I-ol (40.0) + EtOH","I-an (0.4) + EtOH","I-an (4.0) + EtOH","I-an (40.0) + EtOH","UDCA (40.0) + EtOH"], "range": [-0.6, 332.4], "paddingInner": 0, "paddingOuter": 0},
      "axis": {"title": null, "labelAngle": -45, "labelAlign": "right", "labelFontSize": 9, "labelPadding": 2}},
    "xOffset": {"field": "s", "type": "nominal", "scale": {"domain": ["L","l","C","r","R"], "paddingInner": 0, "paddingOuter": 3.2}}}},
  {"data": {"name": "d_pts"}, "mark": {"type": "tick", "orient": "horizontal", "size": 22, "thickness": 2, "color": "#111"},
   "encoding": {"x": {"field": "g", "type": "nominal", "sort": null, "scale": {"domain": ["Control","Isocal. + Solvent","EtOH + Solvent","I-ol (0.4) + EtOH","I-ol (4.0) + EtOH","I-ol (40.0) + EtOH","I-an (0.4) + EtOH","I-an (4.0) + EtOH","I-an (40.0) + EtOH","UDCA (40.0) + EtOH"], "range": [-0.6, 332.4], "paddingInner": 0, "paddingOuter": 0}, "axis": null},
    "y": {"aggregate": "mean", "field": "v", "type": "quantitative", "title": "mmol/l", "scale": {"domain": [0, 5], "range": [209, -13], "nice": false},
      "axis": {"values": [0,1,2,3,4,5], "format": "d", "titleFontSize": 9.5, "titleX": -30, "labelFontSize": 9, "labelPadding": 2}}}},
  {"data": {"name": "d_br"}, "mark": {"type": "rule", "color": "#444", "strokeWidth": 1, "xOffset": 1.5, "x2Offset": -1.5},
   "encoding": {"x": {"field": "a", "type": "quantitative", "scale": {"domain": [0.5, 10.5], "range": [-0.6, 332.4], "nice": false, "zero": false}, "axis": null}, "x2": {"field": "b"}}},
  {"data": {"name": "d_br"}, "mark": {"type": "tick", "orient": "vertical", "size": 8, "thickness": 1, "color": "#444", "xOffset": 1.5},
   "encoding": {"x": {"field": "a", "type": "quantitative", "scale": {"domain": [0.5, 10.5], "range": [-0.6, 332.4], "nice": false, "zero": false}, "axis": null}}},
  {"data": {"name": "d_br"}, "transform": [{"filter": "!isValid(datum.d)"}], "mark": {"type": "tick", "orient": "vertical", "size": 8, "thickness": 1, "color": "#444", "xOffset": -1.5},
   "encoding": {"x": {"field": "b", "type": "quantitative", "scale": {"domain": [0.5, 10.5], "range": [-0.6, 332.4], "nice": false, "zero": false}, "axis": null}}},
  {"data": {"name": "d_br"}, "transform": [{"filter": "isValid(datum.d)"}], "mark": {"type": "rule", "color": "#444", "strokeWidth": 1, "xOffset": -1.5},
   "encoding": {"x": {"field": "b", "type": "quantitative", "scale": {"domain": [0.5, 10.5], "range": [-0.6, 332.4], "nice": false, "zero": false}, "axis": null}, "y2": {"field": "d"}}},
  {"data": {"name": "d_br"}, "transform": [{"calculate": "(datum.a+datum.b)/2", "as": "m"}], "mark": {"type": "text", "fontSize": 7.5, "color": "#555", "baseline": "alphabetic", "dy": 0},
   "encoding": {"x": {"field": "m", "type": "quantitative", "scale": {"domain": [0.5, 10.5], "range": [-0.6, 332.4], "nice": false, "zero": false}, "axis": null}, "text": {"field": "s"}}},
  {"data": {"name": "d_txt"}, "mark": {"type": "text", "fontSize": 10.5, "fontWeight": "bold", "color": "#111", "align": "left", "baseline": "alphabetic"},
   "encoding": {"x": {"field": "x", "type": "quantitative", "scale": {"domain": [0.5, 10.5], "range": [-0.6, 332.4], "nice": false, "zero": false}, "axis": null}, "text": {"field": "t"}}},
  {"data": {"name": "d_txt"}, "mark": {"type": "text", "fontSize": 7, "fontWeight": "bold", "color": "#111", "align": "right", "baseline": "alphabetic", "dx": -3, "dy": -5},
   "encoding": {"x": {"field": "x", "type": "quantitative", "scale": {"domain": [0.5, 10.5], "range": [-0.6, 332.4], "nice": false, "zero": false}, "axis": null}, "text": {"field": "u"}}}
 ]},
{"data": {"values": []}, "mark": "point", "width": 1, "height": 38},
{"title": {"text": "(e)", "offset": 6, "dx": -53},
 "width": 330, "height": 192,
 "resolve": {"scale": {"x": "independent"}},
 "encoding": {"y": {"field": "v", "type": "quantitative", "title": "g/l", "scale": {"domain": [0, 1.5], "nice": false},
   "axis": {"values": [0,0.5,1,1.5], "format": ".1f", "titleFontSize": 9.5, "titleX": -26, "labelFontSize": 9.5, "labelPadding": 2, "offset": 3}}},
 "layer": [
  {"data": {"name": "e_box"}, "mark": {"type": "rect", "filled": false, "color": "#111", "strokeWidth": 1.6, "strokeDash": [1.6, 1.9]},
   "encoding": {"x": {"field": "x1", "type": "quantitative", "scale": {"domain": [0.5, 10.5], "range": [-2.6, 329.4], "nice": false, "zero": false}, "axis": null}, "x2": {"field": "x2"}, "y2": {"field": "v2"}}},
  {"data": {"name": "e_pts"}, "mark": {"type": "point", "shape": "cross", "angle": 45, "filled": true, "size": 20, "color": "#111", "opacity": 1},
   "encoding": {
    "x": {"field": "g", "type": "nominal", "sort": null, "scale": {"domain": ["Control","Isocal. + Solvent","EtOH + Solvent","I-ol (0.4) + EtOH","I-ol (4.0) + EtOH","I-ol (40.0) + EtOH","I-an (0.4) + EtOH","I-an (4.0) + EtOH","I-an (40.0) + EtOH","UDCA (40.0) + EtOH"], "range": [-2.6, 329.4], "paddingInner": 0, "paddingOuter": 0},
      "axis": {"title": null, "labelAngle": -45, "labelAlign": "right", "labelFontSize": 9, "labelPadding": 2}},
    "xOffset": {"field": "s", "type": "nominal", "scale": {"domain": ["L","l","C","r","R"], "paddingInner": 0, "paddingOuter": 3.2}}}},
  {"data": {"name": "e_pts"}, "mark": {"type": "tick", "orient": "horizontal", "size": 22, "thickness": 2, "color": "#111"},
   "encoding": {"x": {"field": "g", "type": "nominal", "sort": null, "scale": {"domain": ["Control","Isocal. + Solvent","EtOH + Solvent","I-ol (0.4) + EtOH","I-ol (4.0) + EtOH","I-ol (40.0) + EtOH","I-an (0.4) + EtOH","I-an (4.0) + EtOH","I-an (40.0) + EtOH","UDCA (40.0) + EtOH"], "range": [-2.6, 329.4], "paddingInner": 0, "paddingOuter": 0}, "axis": null},
    "y": {"aggregate": "mean", "field": "v", "type": "quantitative", "title": "g/l", "scale": {"domain": [0, 1.5], "nice": false},
      "axis": {"values": [0,0.5,1,1.5], "format": ".1f", "titleFontSize": 9.5, "titleX": -26, "labelFontSize": 9.5, "labelPadding": 2, "offset": 3}}}},
  {"data": {"name": "e_br"}, "mark": {"type": "rule", "color": "#444", "strokeWidth": 1, "xOffset": 1.5, "x2Offset": -1.5},
   "encoding": {"x": {"field": "a", "type": "quantitative", "scale": {"domain": [0.5, 10.5], "range": [-2.6, 329.4], "nice": false, "zero": false}, "axis": null}, "x2": {"field": "b"}}},
  {"data": {"name": "e_br"}, "mark": {"type": "tick", "orient": "vertical", "size": 8, "thickness": 1, "color": "#444", "xOffset": 1.5},
   "encoding": {"x": {"field": "a", "type": "quantitative", "scale": {"domain": [0.5, 10.5], "range": [-2.6, 329.4], "nice": false, "zero": false}, "axis": null}}},
  {"data": {"name": "e_br"}, "transform": [{"filter": "!isValid(datum.d)"}], "mark": {"type": "tick", "orient": "vertical", "size": 8, "thickness": 1, "color": "#444", "xOffset": -1.5},
   "encoding": {"x": {"field": "b", "type": "quantitative", "scale": {"domain": [0.5, 10.5], "range": [-2.6, 329.4], "nice": false, "zero": false}, "axis": null}}},
  {"data": {"name": "e_br"}, "transform": [{"filter": "isValid(datum.d)"}], "mark": {"type": "rule", "color": "#444", "strokeWidth": 1, "xOffset": -1.5},
   "encoding": {"x": {"field": "b", "type": "quantitative", "scale": {"domain": [0.5, 10.5], "range": [-2.6, 329.4], "nice": false, "zero": false}, "axis": null}, "y2": {"field": "d"}}},
  {"data": {"name": "e_br"}, "transform": [{"calculate": "(datum.a+datum.b)/2", "as": "m"}], "mark": {"type": "text", "fontSize": 7.5, "color": "#555", "baseline": "alphabetic", "dy": 0},
   "encoding": {"x": {"field": "m", "type": "quantitative", "scale": {"domain": [0.5, 10.5], "range": [-2.6, 329.4], "nice": false, "zero": false}, "axis": null}, "text": {"field": "s"}}}
 ]},
{"data": {"values": []}, "mark": "point", "width": 1, "height": 74},
{"title": {"text": "(f)", "offset": -15, "dx": -53},
 "width": 330, "height": 197,
 "resolve": {"scale": {"x": "independent"}},
 "encoding": {"y": {"field": "v", "type": "quantitative", "title": "mmol/l", "scale": {"domain": [0, 1], "nice": false},
   "axis": {"values": [0,0.2,0.4,0.6,0.8,1], "format": ".1f", "titleFontSize": 9.5, "titleX": -34, "labelFontSize": 9, "labelPadding": 2, "offset": 9}}},
 "layer": [
  {"data": {"name": "f_box"}, "mark": {"type": "rect", "filled": false, "color": "#111", "strokeWidth": 1.6, "strokeDash": [1.6, 1.9]},
   "encoding": {"x": {"field": "x1", "type": "quantitative", "scale": {"domain": [0.5, 10.5], "range": [-9, 330], "nice": false, "zero": false}, "axis": null}, "x2": {"field": "x2"}, "y2": {"field": "v2"}}},
  {"data": {"name": "f_pts"}, "mark": {"type": "point", "shape": "cross", "angle": 45, "filled": true, "size": 20, "color": "#111", "opacity": 1},
   "encoding": {
    "x": {"field": "g", "type": "nominal", "sort": null, "scale": {"domain": ["Control","Isocal. + Solvent","EtOH + Solvent","I-ol (0.4) + EtOH","I-ol (4.0) + EtOH","I-ol (40.0) + EtOH","I-an (0.4) + EtOH","I-an (4.0) + EtOH","I-an (40.0) + EtOH","UDCA (40.0) + EtOH"], "range": [-9, 330], "paddingInner": 0, "paddingOuter": 0},
      "axis": {"title": null, "labelAngle": -45, "labelAlign": "right", "labelFontSize": 9, "labelPadding": 2}},
    "xOffset": {"field": "s", "type": "nominal", "scale": {"domain": ["L","l","C","r","R"], "paddingInner": 0, "paddingOuter": 3.2}}}},
  {"data": {"name": "f_pts"}, "mark": {"type": "tick", "orient": "horizontal", "size": 22, "thickness": 2, "color": "#111"},
   "encoding": {"x": {"field": "g", "type": "nominal", "sort": null, "scale": {"domain": ["Control","Isocal. + Solvent","EtOH + Solvent","I-ol (0.4) + EtOH","I-ol (4.0) + EtOH","I-ol (40.0) + EtOH","I-an (0.4) + EtOH","I-an (4.0) + EtOH","I-an (40.0) + EtOH","UDCA (40.0) + EtOH"], "range": [-9, 330], "paddingInner": 0, "paddingOuter": 0}, "axis": null},
    "y": {"aggregate": "mean", "field": "v", "type": "quantitative", "title": "mmol/l", "scale": {"domain": [0, 1], "nice": false},
      "axis": {"values": [0,0.2,0.4,0.6,0.8,1], "format": ".1f", "titleFontSize": 9.5, "titleX": -34, "labelFontSize": 9, "labelPadding": 2, "offset": 9}}}},
  {"data": {"name": "f_br"}, "mark": {"type": "rule", "color": "#444", "strokeWidth": 1, "xOffset": 1.5, "x2Offset": -1.5},
   "encoding": {"x": {"field": "a", "type": "quantitative", "scale": {"domain": [0.5, 10.5], "range": [-9, 330], "nice": false, "zero": false}, "axis": null}, "x2": {"field": "b"}}},
  {"data": {"name": "f_br"}, "mark": {"type": "tick", "orient": "vertical", "size": 8, "thickness": 1, "color": "#444", "xOffset": 1.5},
   "encoding": {"x": {"field": "a", "type": "quantitative", "scale": {"domain": [0.5, 10.5], "range": [-9, 330], "nice": false, "zero": false}, "axis": null}}},
  {"data": {"name": "f_br"}, "transform": [{"filter": "!isValid(datum.d)"}], "mark": {"type": "tick", "orient": "vertical", "size": 8, "thickness": 1, "color": "#444", "xOffset": -1.5},
   "encoding": {"x": {"field": "b", "type": "quantitative", "scale": {"domain": [0.5, 10.5], "range": [-9, 330], "nice": false, "zero": false}, "axis": null}}},
  {"data": {"name": "f_br"}, "transform": [{"filter": "isValid(datum.d)"}], "mark": {"type": "rule", "color": "#444", "strokeWidth": 1, "xOffset": -1.5},
   "encoding": {"x": {"field": "b", "type": "quantitative", "scale": {"domain": [0.5, 10.5], "range": [-9, 330], "nice": false, "zero": false}, "axis": null}, "y2": {"field": "d"}}},
  {"data": {"name": "f_br"}, "transform": [{"calculate": "(datum.a+datum.b)/2", "as": "m"}], "mark": {"type": "text", "fontSize": 7.5, "color": "#555", "baseline": "alphabetic", "dy": 0},
   "encoding": {"x": {"field": "m", "type": "quantitative", "scale": {"domain": [0.5, 10.5], "range": [-9, 330], "nice": false, "zero": false}, "axis": null}, "text": {"field": "s"}}}
 ]}
]}
]
}
